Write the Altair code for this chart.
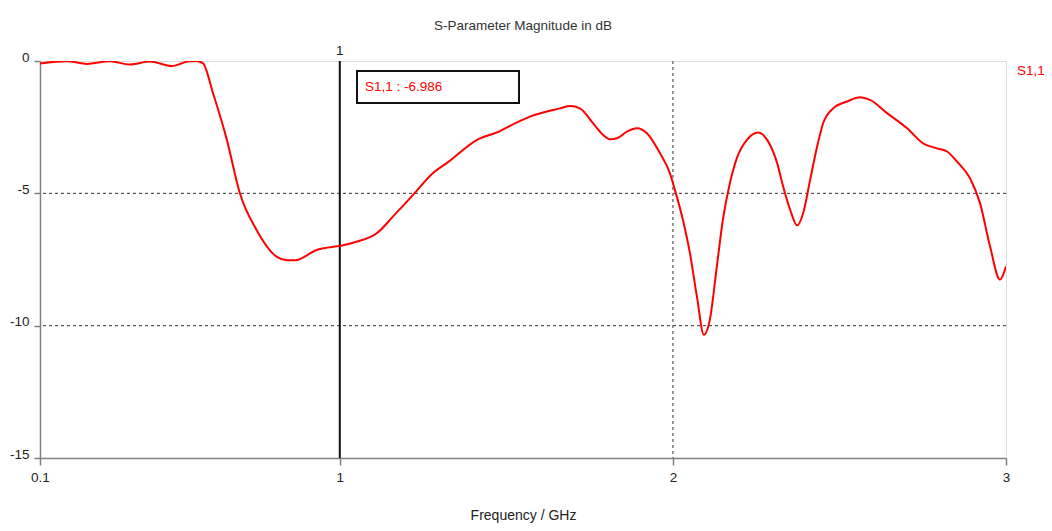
import altair as alt
import pandas as pd

# ---- data ----
freq_ghz = [0.100, 0.181, 0.241, 0.310, 0.370, 0.430, 0.496, 0.550, 0.571, 0.589,
            0.619, 0.661, 0.700, 0.751, 0.811, 0.842, 0.866, 0.932, 0.992, 1.000,
            1.052, 1.112, 1.160, 1.220, 1.280, 1.322, 1.412, 1.481, 1.511, 1.571,
            1.661, 1.691, 1.721, 1.760, 1.790, 1.811, 1.832, 1.862, 1.892, 1.922,
            1.961, 1.991, 2.006, 2.030, 2.051, 2.072, 2.093, 2.111, 2.132, 2.150,
            2.171, 2.192, 2.222, 2.256, 2.283, 2.313, 2.331, 2.352, 2.373, 2.391,
            2.412, 2.433, 2.451, 2.481, 2.523, 2.562, 2.592, 2.643, 2.703, 2.751,
            2.793, 2.823, 2.853, 2.892, 2.922, 2.952, 2.982, 3.000]
s11_db = [-0.09, -0.01, -0.11, -0.01, -0.13, -0.02, -0.19, -0.01, -0.01, -0.08,
          -1.20, -2.98, -5.00, -6.40, -7.40, -7.53, -7.53, -7.13, -7.00, -6.986,
          -6.82, -6.50, -5.87, -5.06, -4.23, -3.85, -2.98, -2.65, -2.45, -2.10,
          -1.79, -1.70, -1.79, -2.35, -2.79, -2.96, -2.92, -2.67, -2.54, -2.73,
          -3.48, -4.24, -4.87, -6.00, -7.25, -8.89, -10.34, -9.77, -7.76, -6.00,
          -4.62, -3.67, -2.98, -2.70, -2.98, -3.86, -4.74, -5.62, -6.21, -5.75,
          -4.49, -3.23, -2.35, -1.79, -1.53, -1.37, -1.47, -1.97, -2.54, -3.11,
          -3.30, -3.42, -3.80, -4.43, -5.37, -7.00, -8.26, -7.76]
x_ticks = [0.1, 1, 2, 3]
y_ticks = [0, -5, -10, -15]
grid_db = [-5, -10]
grid_ghz = [2]
marker_ghz = [1.0]
marker_db = -6.986
series_name = "S1,1"
chart_title = "S-Parameter Magnitude in dB"
x_title = "Frequency / GHz"

FONT = "Liberation Sans"
RED = "#ff0000"
GREY = "#808080"

df = pd.DataFrame({"f": freq_ghz, "s": s11_db})
xscale = alt.Scale(domain=[0.1, 3], nice=False, zero=False)
yscale = alt.Scale(domain=[-15, 0], nice=False, zero=False)

xaxis = alt.Axis(
    values=x_ticks, format="~g", title=x_title, grid=False, labelFlush=False,
    labelOverlap=False, tickSize=7, labelPadding=5, titlePadding=25,
    domainColor=GREY, domainWidth=1.5, tickColor=GREY, tickWidth=1.5,
    labelColor="#222", labelFont=FONT, labelFontSize=13.5,
    titleFont=FONT, titleFontSize=14, titleFontWeight="normal", titleColor="#222")
yaxis = alt.Axis(
    values=y_ticks, title=None, grid=False, labelBaseline="alphabetic",
    labelExpr="toString(datum.value)",
    labelFlush=False, labelOverlap=False, tickSize=6, labelPadding=5,
    domainColor=GREY, domainWidth=1.5, tickColor=GREY, tickWidth=1.5,
    labelColor="#222", labelFont=FONT, labelFontSize=13.5)

line = alt.Chart(df).mark_line(color=RED, strokeWidth=2, interpolate="monotone", clip=True).encode(
    x=alt.X("f:Q", scale=xscale, axis=xaxis),
    y=alt.Y("s:Q", scale=yscale, axis=yaxis),
)

ygrid = alt.Chart(pd.DataFrame({"g": grid_db})).mark_rule(
    color="#333", strokeWidth=1, strokeDash=[3, 3]).encode(
    y=alt.Y("g:Q", scale=yscale, axis=yaxis))

xgrid = alt.Chart(pd.DataFrame({"g": grid_ghz})).mark_rule(
    color="#777", strokeWidth=1.5, strokeDash=[3, 3]).encode(
    x=alt.X("g:Q", scale=xscale, axis=xaxis))

mdf = pd.DataFrame({"m": marker_ghz, "v": [marker_db]})
marker = alt.Chart(mdf).mark_rule(color="#111", strokeWidth=2).encode(
    x=alt.X("m:Q", scale=xscale, axis=xaxis))

marker_label = alt.Chart(mdf).mark_text(
    font=FONT, fontSize=13.5, color="#222", baseline="alphabetic", align="center").encode(
    x=alt.X("m:Q", scale=xscale, axis=xaxis), y=alt.value(-6),
    text=alt.Text("m:Q", format="~g"))

box = alt.Chart(mdf).mark_rect(fill="white", stroke="#111", strokeWidth=2).encode(
    x=alt.value(317), x2=alt.value(479), y=alt.value(10), y2=alt.value(42))

box_text = alt.Chart(mdf).transform_calculate(
    label=f"'{series_name} : ' + toString(datum.v)").mark_text(
    font=FONT, fontSize=13.5, color=RED, align="left", baseline="alphabetic").encode(
    x=alt.value(325), y=alt.value(30), text="label:N")

legend = alt.Chart(pd.DataFrame({"name": [series_name]})).mark_text(
    font=FONT, fontSize=13.5, color=RED, align="left", baseline="alphabetic").encode(
    x=alt.value(977), y=alt.value(14), text="name:N")

chart = alt.layer(ygrid, xgrid, marker, line, marker_label, box, box_text, legend).properties(
    width=966, height=397,
    title=alt.Title(chart_title, font=FONT, fontSize=13.5, fontWeight="normal",
                    color="#333", anchor="middle", frame="group", offset=12),
    autosize=alt.AutoSizeParams(type="none"),
    padding={"left": 32, "top": 53, "right": 38, "bottom": 65},
).configure_view(stroke=GREY, strokeWidth=1.5).configure(background="white")

chart.save("out.html", embed_options={"renderer": "svg", "actions": False})
